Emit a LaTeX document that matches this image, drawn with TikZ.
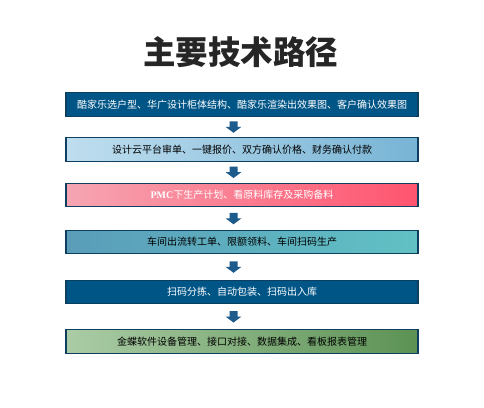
\documentclass[tikz,border=0pt]{standalone}
\usepackage{fontspec}
\setmainfont{Liberation Serif}
\newfontfamily\cjk{Noto Sans CJK SC}
\usetikzlibrary{calc}
\definecolor{navy}{HTML}{005587}
\definecolor{edgecol}{HTML}{0E3F60}
\definecolor{arrcol}{HTML}{1D5B8C}
\definecolor{titlecol}{HTML}{262626}
\definecolor{bl}{HTML}{BFDEEF}\definecolor{br}{HTML}{78B4D5}
\definecolor{pl}{HTML}{F6A5B2}\definecolor{pr}{HTML}{FF546F}
\definecolor{tl}{HTML}{5A9DB9}\definecolor{tr}{HTML}{61C1C4}
\definecolor{gl}{HTML}{ABCCA6}\definecolor{gr}{HTML}{5C9254}
\tikzset{
  box/.style={draw=edgecol, line width=1.1pt, minimum width=352pt, minimum height=23.5pt,
    inner sep=0pt, font=\cjk\fontsize{10}{12}\selectfont},
  darr/.pic={\fill[arrcol] (-4,0) -- (4,0) -- (4,5.5) -- (8,5.5) -- (0,11.5) -- (-8,5.5) -- (-4,5.5) -- cycle;}
}
\begin{document}
\begin{tikzpicture}[x=1pt,y=-1pt]
\useasboundingbox[fill=white] (0,0) rectangle (484,407);
\node[font=\cjk\bfseries\fontsize{32.5}{36}\selectfont, text=titlecol] (title) at (240.5,52) {主要技术路径};
\node[box, fill=navy, text=white] (b1) at (242,104.5) {酷家乐选户型、华广设计柜体结构、酷家乐渲染出效果图、客户确认效果图};
\node[box, left color=bl, right color=br, text=black] (b2) at (242,149.5) {设计云平台审单、一键报价、双方确认价格、财务确认付款};
\node[box, left color=pl, right color=pr, text=white] (b3) at (242,195) {{\rmfamily\bfseries PMC}下生产计划、看原料库存及采购备料};
\node[box, left color=tl, right color=tr, text=black] (b4) at (242,242) {车间出流转工单、限额领料、车间扫码生产};
\node[box, fill=navy, text=white] (b5) at (242,292) {扫码分拣、自动包装、扫码出入库};
\node[box, left color=gl, right color=gr, text=black] (b6) at (242,341.5) {金蝶软件设备管理、接口对接、数据集成、看板报表管理};
\coordinate (m1) at ($(b1.south)!0.5!(b2.north)$);
\coordinate (m2) at ($(b2.south)!0.5!(b3.north)$);
\coordinate (m3) at ($(b3.south)!0.5!(b4.north)$);
\coordinate (m4) at ($(b4.south)!0.5!(b5.north)$);
\coordinate (m5) at ($(b5.south)!0.5!(b6.north)$);
\foreach \m in {m1,m2,m3,m4,m5}
  \pic at ([xshift=-8.5pt,yshift=5.75pt]\m) {darr};
\end{tikzpicture}
\end{document}
